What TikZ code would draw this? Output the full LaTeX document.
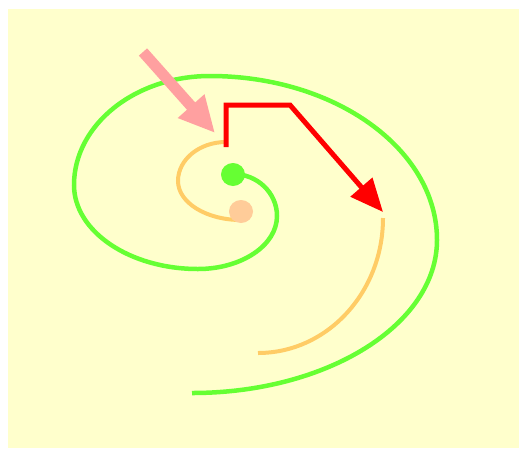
\documentclass[tikz,border=0pt]{standalone}
\usetikzlibrary{arrows.meta,shapes.geometric}
\definecolor{bgyellow}{HTML}{FFFFCC}
\definecolor{spiralgreen}{HTML}{66FF33}
\definecolor{spiralorange}{HTML}{FFCC66}
\definecolor{dotorange}{HTML}{FFCC99}
\definecolor{pinkarrow}{HTML}{FFA0A0}
\begin{document}
\begin{tikzpicture}[x=1pt,y=-1pt,
  greenline/.style={draw=spiralgreen,line width=4.5pt},
  orangeline/.style={draw=spiralorange,line width=4pt},
  redarrow/.style={draw=red,line width=5pt,-{Triangle[length=33pt,width=28pt]}},
  pinkbar/.style={draw=pinkarrow,line width=11pt,-{Triangle[length=36pt,width=33pt]}},
  dotstyle/.style={ellipse,inner sep=0pt,minimum width=24pt,minimum height=23pt}]
\useasboundingbox (0,0) rectangle (519,448);
\fill[bgyellow] (8,9) rectangle (519,448);
% named points
\coordinate (gstart) at (233,174);
\coordinate (ostart) at (241,220);
\coordinate (oouter) at (383,218);
\coordinate (r0) at (226,147);
\coordinate (r1) at (226,105);
\coordinate (r2) at (290,105);
\coordinate (rtip) at (383,212);
\coordinate (p0) at (143,52);
\coordinate (ptip) at (215,133);
% green spiral
\draw[greenline] (gstart)
  arc[start angle=90,end angle=0,x radius=44pt,y radius=42pt]
  arc[start angle=0,end angle=-90,x radius=79pt,y radius=53pt]
  arc[start angle=-90,end angle=-180,x radius=124pt,y radius=84pt]
  arc[start angle=180,end angle=90,x radius=136pt,y radius=109pt]
  arc[start angle=90,end angle=0,x radius=227pt,y radius=164pt]
  arc[start angle=0,end angle=-90,x radius=245pt,y radius=153pt];
% orange spiral
\draw[orangeline] (ostart)
  arc[start angle=-90,end angle=-180,x radius=63pt,y radius=39pt]
  arc[start angle=180,end angle=90,x radius=48pt,y radius=39pt];
\draw[orangeline] (oouter)
  arc[start angle=0,end angle=-90,x radius=125pt,y radius=135pt];
% dots
\node[dotstyle,fill=spiralgreen] (gdot) at (233,174.5) {};
\node[dotstyle,fill=dotorange] (odot) at (241,211.5) {};
% red arrow
\draw[redarrow] (r0) -- (r1) -- (r2) -- (rtip);
% pink arrow
\draw[pinkbar] (p0) -- (ptip);
\end{tikzpicture}
\end{document}
